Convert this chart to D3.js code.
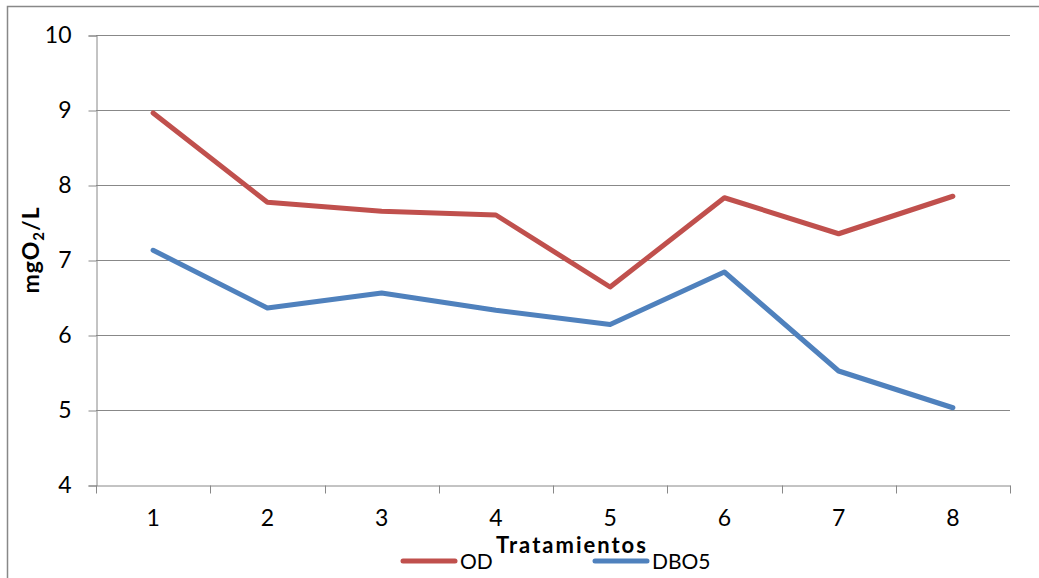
<!DOCTYPE html>
<meta charset="utf-8">
<style>
body { margin: 0; background: #fff; }
text { font-family: Lato, "Open Sans", sans-serif; fill: #000; }
</style>
<svg width="1039" height="578"></svg>
<script src="https://d3js.org/d3.v7.min.js"></script>
<script>

var categories = ["1", "2", "3", "4", "5", "6", "7", "8"];
var od = [8.96, 7.77, 7.65, 7.6, 6.64, 7.83, 7.35, 7.85];
var dbo5 = [7.13, 6.36, 6.56, 6.33, 6.14, 6.84, 5.52, 5.03];
var yTicks = [4, 5, 6, 7, 8, 9, 10];

var series = [
  {name: "OD", values: od, color: "#C0504D"},
  {name: "DBO5", values: dbo5, color: "#4F81BD"}
];

var svg = d3.select("svg");

// outer chart border
svg.append("rect")
    .attr("x", 7.5).attr("y", 6.5)
    .attr("width", 1100).attr("height", 700)
    .attr("fill", "none")
    .attr("stroke", "#888")
    .attr("stroke-width", 1.5);

var plotLeft = 96, plotRight = 1010, plotTop = 35, plotBottom = 485;

var x = d3.scaleBand().domain(categories).range([plotLeft, plotRight]);
var y = d3.scaleLinear().domain([4, 10]).range([plotBottom, plotTop]);

// gridlines
svg.append("g")
  .selectAll("line")
  .data(yTicks.slice(1))
  .enter().append("line")
    .attr("x1", plotLeft).attr("x2", plotRight)
    .attr("y1", function(d) { return y(d) + 0.5; })
    .attr("y2", function(d) { return y(d) + 0.5; })
    .attr("stroke", "#888").attr("stroke-width", 1);

// y axis
var yAxis = svg.append("g")
    .attr("transform", "translate(" + (plotLeft + 0.5) + ",0.5)")
    .call(d3.axisLeft(y).tickValues(yTicks).tickFormat(d3.format("d")).tickSize(8).tickPadding(17));
yAxis.select(".domain").attr("stroke", "#888");
yAxis.selectAll(".tick line").attr("stroke", "#888");
yAxis.selectAll("text").style("font-size", "23px").attr("fill", "#000");

// x axis
var xAxis = svg.append("g")
    .attr("transform", "translate(0," + (plotBottom + 0.5) + ")")
    .call(d3.axisBottom(x).tickSize(0).tickPadding(24));
xAxis.select(".domain").attr("stroke", "#888");
xAxis.selectAll("text").style("font-size", "23px").attr("fill", "#000");
// ticks between categories
xAxis.selectAll(".sep")
  .data(d3.range(categories.length + 1))
  .enter().append("line")
    .attr("class", "sep")
    .attr("x1", function(i) { return Math.round(plotLeft + i * x.bandwidth()) + 0.5; })
    .attr("x2", function(i) { return Math.round(plotLeft + i * x.bandwidth()) + 0.5; })
    .attr("y1", 0).attr("y2", 8)
    .attr("stroke", "#888");

var line = d3.line()
    .x(function(d, i) { return x(categories[i]) + x.bandwidth() / 2; })
    .y(function(d) { return y(d); });

svg.append("g")
  .selectAll("path")
  .data(series)
  .enter().append("path")
    .attr("d", function(s) { return line(s.values); })
    .attr("fill", "none")
    .attr("stroke", function(s) { return s.color; })
    .attr("stroke-width", 5)
    .attr("stroke-linecap", "round")
    .attr("stroke-linejoin", "round");

// axis titles
var yt = svg.append("text")
    .attr("transform", "translate(39,250) rotate(-90)")
    .attr("text-anchor", "middle")
    .style("font-size", "23px")
    .style("letter-spacing", "1px")
    .style("font-weight", "bold");
yt.append("tspan").text("mgO");
yt.append("tspan").text("2").style("font-size", "15px").attr("dy", 5);
yt.append("tspan").text("/L").attr("dy", -5);

svg.append("text")
    .attr("x", 572).attr("y", 553)
    .attr("text-anchor", "middle")
    .style("font-size", "22px")
    .style("letter-spacing", "2px")
    .style("font-weight", "bold")
    .text("Tratamientos");

// legend
var legend = svg.append("g")
  .selectAll("g")
  .data(series)
  .enter().append("g")
    .attr("transform", function(s, i) { return "translate(" + (403 + i * 192) + ",561)"; });
legend.append("line")
    .attr("x1", 0).attr("x2", 52)
    .attr("stroke", function(s) { return s.color; })
    .attr("stroke-width", 5)
    .attr("stroke-linecap", "round");
legend.append("text")
    .attr("x", 57).attr("y", 8)
    .style("font-size", "21px")
    .text(function(s) { return s.name; });

</script>
